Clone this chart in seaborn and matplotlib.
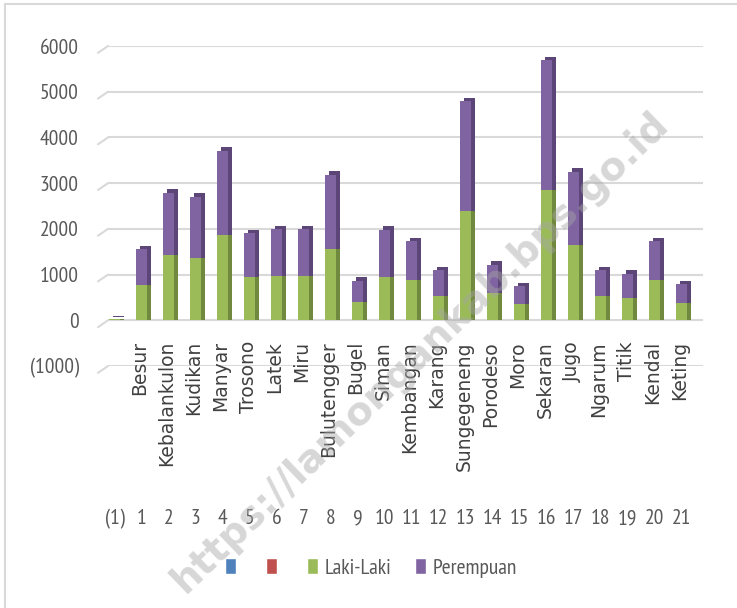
import matplotlib
matplotlib.use("Agg")
import matplotlib.pyplot as plt
from matplotlib import patheffects as pe
from matplotlib.patches import Patch, Rectangle
from matplotlib.ticker import FuncFormatter
import seaborn as sns
import pandas as pd

# data (jumlah penduduk per desa)
desa = ["", "Besur", "Kebalankulon", "Kudikan", "Manyar", "Trosono", "Latek", "Miru",
        "Bulutengger", "Bugel", "Siman", "Kembangan", "Karang", "Sungegeneng",
        "Porodeso", "Moro", "Sekaran", "Jugo", "Ngarum", "Titik", "Kendal", "Keting"]
nomor = ["(1)"] + [str(i) for i in range(1, 22)]
laki = [20, 770, 1420, 1370, 1860, 950, 970, 970, 1555, 390, 955, 880, 535, 2395,
        605, 365, 2845, 1640, 535, 495, 880, 385]
perempuan = [0, 785, 1375, 1330, 1850, 955, 1025, 1025, 1625, 470, 1025, 845, 565, 2395,
             605, 385, 2845, 1610, 565, 525, 845, 405]
yticks = [-1000, 0, 1000, 2000, 3000, 4000, 5000, 6000]

df = pd.DataFrame({"nomor": nomor, "desa": desa, "laki": laki, "perempuan": perempuan})
df["total"] = df["laki"] + df["perempuan"]

GREEN, GREEN_DK = "#9BBB59", "#71893F"
PURPLE, PURPLE_DK = "#8064A2", "#5C4677"
GREY_TXT = "#595959"
GRID = "#d9d9d9"

sns.set_theme(style="white")
plt.rcParams["font.family"] = ["PT Sans Narrow", "DejaVu Sans"]

fig = plt.figure(figsize=(7.37, 6.08), dpi=100)
ax = fig.add_axes([108 / 737, 1 - 366 / 608, 595 / 737, (366 - 46) / 608])

sns.barplot(data=df, x="nomor", y="total", color=PURPLE, width=0.43, saturation=1,
            errorbar=None, linewidth=0, ax=ax, zorder=3)
sns.barplot(data=df, x="nomor", y="laki", color=GREEN, width=0.43, saturation=1,
            errorbar=None, linewidth=0, ax=ax, zorder=3)

# fake the excel 3d look with a darker offset shadow
n = len(df)
for p in ax.patches[:n]:
    p.set_path_effects([pe.SimplePatchShadow(offset=(3, 2.5), shadow_rgbFace=PURPLE_DK, alpha=1), pe.Normal()])
for p in ax.patches[n:2 * n]:
    p.set_path_effects([pe.SimplePatchShadow(offset=(3, 0), shadow_rgbFace=GREEN_DK, alpha=1), pe.Normal()])

ax.grid(axis="y", color=GRID, lw=1.5, zorder=0)
ax.grid(axis="x", visible=False)
# little slanted stubs at the left end of each gridline (3d wall edge)
for v in yticks:
    ax.plot([-10 / 595, 0], [v - 150, v], transform=ax.get_yaxis_transform(),
            color=GRID, lw=1.5, clip_on=False, zorder=0)

ax.set_ylim(-1000, 6000)
ax.set_xlim(-0.24, 21.8)
ax.set_yticks(yticks)
ax.yaxis.set_major_formatter(FuncFormatter(lambda v, _: f"({abs(int(v))})" if v < 0 else f"{int(v)}"))
for s in ax.spines.values():
    s.set_visible(False)
ax.set_xlabel("")
ax.set_ylabel("")
ax.tick_params(axis="y", length=0, pad=21, labelsize=15.5, labelcolor=GREY_TXT)
ax.tick_params(axis="x", length=0, pad=103, labelsize=15.5, labelcolor=GREY_TXT)

# village names, rotated under each bar
for i, nama in enumerate(df["desa"]):
    if nama:
        ax.annotate(nama, xy=(i, 0), xytext=(-1, -15), textcoords="offset points",
                    rotation=90, ha="center", va="top", fontsize=13.5,
                    color="#404040", family="DejaVu Sans")

handles = [Patch(facecolor="#4F81BD"), Patch(facecolor="#C0504D"),
           Patch(facecolor=GREEN), Patch(facecolor=PURPLE)]
fig.legend(handles, ["", "", "Laki-Laki", "Perempuan"], loc="center",
           bbox_to_anchor=(371 / 737, 1 - 568 / 608), ncol=4, frameon=False,
           fontsize=15.5, labelcolor=GREY_TXT, handlelength=0.5, handleheight=0.7,
           handletextpad=0.3, columnspacing=1.1)

# watermark
fig.text(420 / 737, 1 - 352 / 608, "https://lamongankab.bps.go.id", rotation=44,
         ha="center", va="center", fontsize=28, fontweight="bold",
         color="#a6a6a6", alpha=0.45, family="DejaVu Sans", zorder=10)

fig.add_artist(Rectangle((5 / 737, -0.1), 1.2, 1 - 4 / 608 + 0.1, transform=fig.transFigure,
                         fill=False, edgecolor=GRID, lw=1.5))

fig.savefig("out.png", dpi=100)
